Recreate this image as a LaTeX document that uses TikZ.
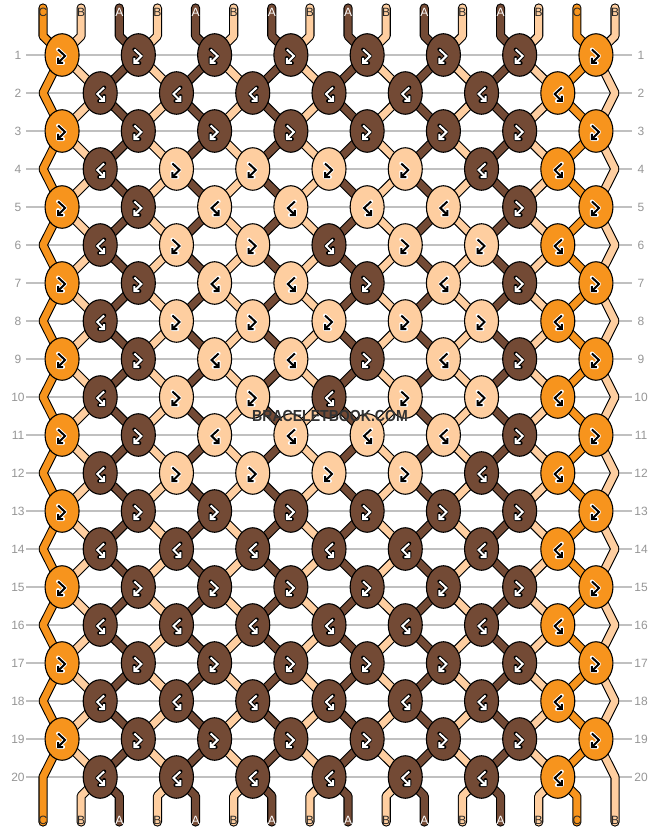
\documentclass[tikz,border=0pt]{standalone}
\usepackage{fontspec}
\setmainfont{Liberation Sans}
\usetikzlibrary{shapes.geometric}
\definecolor{cO}{RGB}{247,148,29}
\definecolor{cD}{RGB}{115,74,53}
\definecolor{cP}{RGB}{254,206,160}
\definecolor{labgray}{RGB}{150,150,150}
\definecolor{linegray}{RGB}{192,192,192}
\definecolor{wmark}{RGB}{50,50,50}
\definecolor{darktxt}{RGB}{40,40,40}
\newcommand\symfb[2]{%
  \draw[#2, line width=4, line cap=round, line join=round] (-4,-5.5) -- (3,1) -- (-4,8) (-4,3) -- (-4,8) -- (1,8);
  \draw[#1, line width=2, line cap=butt, line join=miter] (-4,-5.5) -- (3,1) -- (-4,8) (-4,3) -- (-4,8) -- (1,8);}
\newcommand\symbf[2]{%
  \draw[#2, line width=4, line cap=round, line join=round] (4,-5.5) -- (-3,1) -- (4,8) (4,3) -- (4,8) -- (-1,8);
  \draw[#1, line width=2, line cap=butt, line join=miter] (4,-5.5) -- (-3,1) -- (4,8) (4,3) -- (4,8) -- (-1,8);}
\newcommand\midstring[3]{% #1 index, #2 style, #3 colour
  \pgfmathtruncatemacro\ko{floor(#1/2)}
  \pgfmathtruncatemacro\ke{floor((#1-1)/2)}
  \draw[#2, color=#3] (t-#1) -- (tb-#1)
    \foreach \r [evaluate=\r as \rr using int(\r+1)] in {1,3,...,19}{ -- (p-\r-\ko) -- (p-\rr-\ke) }
    -- (bb-#1) -- (b-#1);}
\newcommand\edgestring[4]{% #1 index, #2 knot index, #3 edge tag, #4 style+colour
  \draw[#4] (t-#1) -- (tb-#1)
    \foreach \r [evaluate=\r as \rr using int(\r+1)] in {1,3,...,19}{ -- (p-\r-#2) -- (p-\rr-#3) }
    -- (b-#1);}
\tikzset{
  rowline/.style={linegray, line width=1.3},
  rowlab/.style={text=labgray, font=\fontsize{12}{12}\selectfont, inner sep=0},
  strout/.style={line width=9.2, line cap=round, line join=round},
  strfill/.style={line width=7, line cap=round, line join=round},
  knot/.style={ellipse, draw=black, line width=1.1, minimum width=34, minimum height=42.5, inner sep=0},
  endlab/.style={font=\fontsize{12}{12}\selectfont, inner sep=0},
  pics/sym-odd-O/.style={code={\symfb{black}{white}}},
  pics/sym-odd-D/.style={code={\symfb{white}{black}}},
  pics/sym-odd-P/.style={code={\symbf{black}{white}}},
  pics/sym-even-P/.style={code={\symfb{black}{white}}},
  pics/sym-even-D/.style={code={\symbf{white}{black}}},
  pics/sym-even-O/.style={code={\symbf{black}{white}}},
}
\begin{document}
\begin{tikzpicture}[x=1pt,y=-1pt]
\useasboundingbox (0,0) rectangle (658,832);
\fill[white] (0,0) rectangle (658,832);
% row guide lines and numbers
\foreach \r in {1,...,20}{
  \pgfmathsetmacro\yy{55+38*(\r-1)}
  \coordinate (ll-\r) at (26,\yy);
  \coordinate (lr-\r) at (632,\yy);
  \draw[rowline] (ll-\r) -- (lr-\r);
  \node[rowlab] (nl-\r) at (18,\yy) {\r};
  \node[rowlab] (nr-\r) at (641,\yy) {\r};
}
% string end points
\foreach \i in {0,...,15}{
  \pgfmathsetmacro\xx{43+38.133*\i}
  \coordinate (t-\i) at (\xx,8);
  \coordinate (tb-\i) at (\xx,36);
  \coordinate (bb-\i) at (\xx,796);
  \coordinate (b-\i) at (\xx,822);
}
% knot centres
\foreach \r in {1,3,...,19}{
  \foreach \k in {0,...,7}{
    \coordinate (p-\r-\k) at ({62.07+76.267*\k},{55+38*(\r-1)});
  }
}
\foreach \r in {2,4,...,20}{
  \foreach \k in {0,...,6}{
    \coordinate (p-\r-\k) at ({100.2+76.267*\k},{55+38*(\r-1)});
  }
  \coordinate (p-\r-L) at (43,{55+38*(\r-1)});
  \coordinate (p-\r-R) at (615,{55+38*(\r-1)});
}
% strings: black outlines first
\foreach \i in {1,...,14}{ \midstring{\i}{strout}{black} }
\edgestring{0}{0}{L}{strout, black}
\edgestring{15}{7}{R}{strout, black}
% then coloured fills
\foreach \i/\col in {1/cP,2/cD,3/cP,4/cD,5/cP,6/cD,7/cP,8/cD,9/cP,10/cD,11/cP,12/cD,13/cP,14/cO}{ \midstring{\i}{strfill}{\col} }
\edgestring{0}{0}{L}{strfill, cO}
\edgestring{15}{7}{R}{strfill, cP}
% knots, odd rows
\foreach \r/\cols in {1/{O,D,D,D,D,D,D,O},3/{O,D,D,D,D,D,D,O},5/{O,D,P,P,P,P,D,O},7/{O,D,P,P,D,P,D,O},9/{O,D,P,P,D,P,D,O},11/{O,D,P,P,P,P,D,O},13/{O,D,D,D,D,D,D,O},15/{O,D,D,D,D,D,D,O},17/{O,D,D,D,D,D,D,O},19/{O,D,D,D,D,D,D,O}}{
  \foreach \c [count=\k from 0] in \cols {
    \node[knot, fill=c\c] (k-\r-\k) at (p-\r-\k) {};
    \pic at (p-\r-\k) {sym-odd-\c};
  }
}
% knots, even rows
\foreach \r/\cols in {2/{D,D,D,D,D,D,O},4/{D,P,P,P,P,D,O},6/{D,P,P,D,P,P,O},8/{D,P,P,P,P,P,O},10/{D,P,P,D,P,P,O},12/{D,P,P,P,P,D,O},14/{D,D,D,D,D,D,O},16/{D,D,D,D,D,D,O},18/{D,D,D,D,D,D,O},20/{D,D,D,D,D,D,O}}{
  \foreach \c [count=\k from 0] in \cols {
    \node[knot, fill=c\c] (k-\r-\k) at (p-\r-\k) {};
    \pic at (p-\r-\k) {sym-even-\c};
  }
}
% string end letters
\foreach \i/\L/\tc in {0/C/darktxt,1/B/darktxt,2/A/white,3/B/darktxt,4/A/white,5/B/darktxt,6/A/white,7/B/darktxt,8/A/white,9/B/darktxt,10/A/white,11/B/darktxt,12/A/white,13/B/darktxt,14/C/darktxt,15/B/darktxt}{
  \pgfmathsetmacro\xx{43+38.133*\i}
  \node[endlab, text=\tc] (tl-\i) at (\xx,12.5) {\L};
  \node[endlab, text=\tc] (bl-\i) at (\xx,820.5) {\L};
}
% watermark
\node[font=\bfseries\fontsize{16}{16}\selectfont, text=wmark, xscale=0.88, inner sep=0] (wm) at (330,416) {BRACELETBOOK.COM};
\end{tikzpicture}
\end{document}
